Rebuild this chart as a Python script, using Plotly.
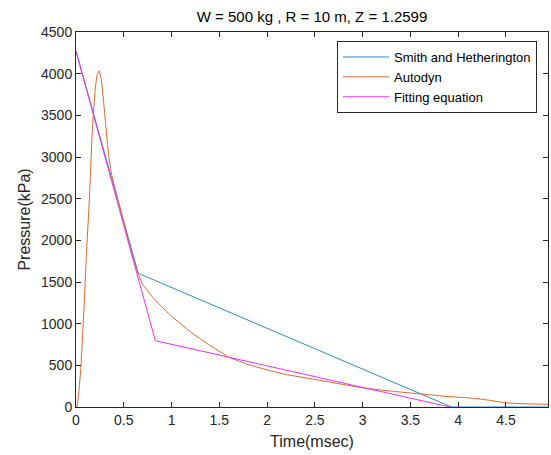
import plotly.graph_objects as go

# data
smith_t = [0, 0.652, 3.93, 4.94]
smith_p = [4270, 1604, 0, 0]

autodyn_t = [0, 0.01, 0.03, 0.05, 0.08, 0.11, 0.14, 0.17, 0.20, 0.22, 0.244, 0.265,
             0.29, 0.31, 0.33, 0.35, 0.375, 0.40, 0.45, 0.50, 0.55, 0.60, 0.65, 0.70,
             0.80, 0.90, 1.0, 1.2, 1.4, 1.6, 1.8, 2.0, 2.2, 2.45, 2.7, 3.0, 3.3,
             3.65, 3.9, 4.16, 4.3, 4.5, 4.7, 4.94]
autodyn_p = [0, 0, 180, 460, 1100, 1850, 2500, 3300, 3800, 3980, 4035, 3930,
             3650, 3400, 3150, 2950, 2780, 2660, 2440, 2220, 1990, 1780, 1600, 1470,
             1320, 1200, 1090, 900, 740, 600, 510, 445, 390, 340, 290, 230, 190,
             152, 125, 105, 85, 50, 38, 32]

fit_t = [0, 0.64, 0.83, 3.91]
fit_p = [4270, 1608, 796, 0]

fig = go.Figure()
fig.add_trace(go.Scatter(x=smith_t, y=smith_p, mode="lines", name="Smith and Hetherington",
                         line=dict(color="#2B8CC4", width=1)))
fig.add_trace(go.Scatter(x=autodyn_t, y=autodyn_p, mode="lines", name="Autodyn",
                         line=dict(color="#D9662E", width=1, shape="spline", smoothing=0.3)))
fig.add_trace(go.Scatter(x=fit_t, y=fit_p, mode="lines", name="Fitting equation",
                         line=dict(color="#F030F0", width=1)))

axis_style = dict(showline=True, linecolor="#262626", linewidth=1, mirror="ticks",
                  ticks="inside", ticklen=5, tickcolor="#262626", showgrid=False,
                  zeroline=False, automargin=False,
                  tickfont=dict(size=14, color="#262626"))

fig.update_layout(
    width=551, height=455,
    margin=dict(l=76, r=3, t=32, b=48, autoexpand=False),
    paper_bgcolor="white", plot_bgcolor="white",
    font=dict(family="Liberation Sans, Arial, sans-serif", color="#262626"),
    title=dict(text="W = 500 kg , R = 10 m, Z = 1.2599", x=0.5, xref="paper",
               xanchor="center", y=0.9626, yref="container", yanchor="middle",
               font=dict(size=15, color="#000000")),
    xaxis=dict(range=[0, 4.94], tickvals=[0, 0.5, 1, 1.5, 2, 2.5, 3, 3.5, 4, 4.5],
               ticktext=["0", "0.5", "1", "1.5", "2", "2.5", "3", "3.5", "4", "4.5"],
               title=dict(text="Time(msec)", font=dict(size=16), standoff=9), **axis_style),
    yaxis=dict(range=[0, 4500], dtick=500,
               title=dict(text="Pressure(kPa)", font=dict(size=16), standoff=6), **axis_style),
    legend=dict(x=0.9767, y=0.976, xanchor="right", yanchor="top", bgcolor="white",
                bordercolor="#262626", borderwidth=1, font=dict(size=13, color="#000000"),
                tracegroupgap=0, itemwidth=46),
    showlegend=True,
)

# page body has a default 8px margin, drop it so the figure sits at 0,0
fig.write_html("out.html", config={"displayModeBar": False},
               post_script="document.body.style.margin='0';")
